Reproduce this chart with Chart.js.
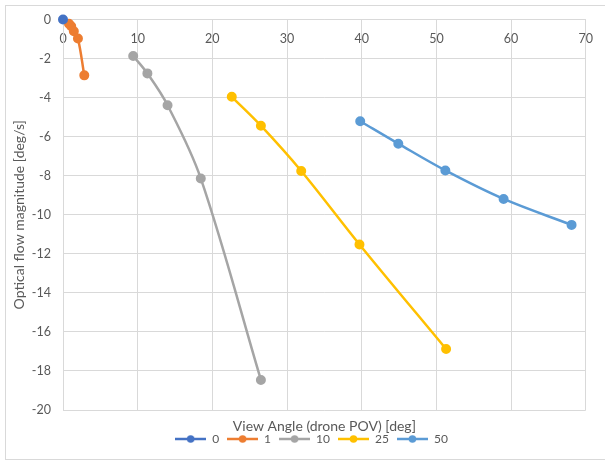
<!DOCTYPE html>
<html>
<head>
<meta charset="utf-8">
<script src="https://cdn.jsdelivr.net/npm/chart.js@4"></script>
<style>
    html, body { margin: 0; padding: 0; background: #ffffff; }
    #frame {
        position: absolute; left: 5px; top: 5px; width: 620px; height: 455px;
        border: 1px solid #d9d9d9; box-sizing: border-box;
    }
    #wrap { position: absolute; left: 0; top: 0; width: 605px; height: 460px; }
</style>
</head>
<body>
<div id="frame"></div>
<div id="wrap"><canvas id="flowChart" width="605" height="460"></canvas></div>
<script>
// series labels (legend) and colours
const seriesNames = ['0', '1', '10', '25', '50'];
const seriesColors = ['#4472C4', '#ED7D31', '#A5A5A5', '#FFC000', '#5B9BD5'];

// view angle [deg] for each series
const angle0 = [0];
const angle1 = [0.8, 1.1, 1.45, 2.0, 2.85];
const angle10 = [9.4, 11.3, 14.0, 18.45, 26.5];
const angle25 = [22.6, 26.5, 31.9, 39.7, 51.3];
const angle50 = [39.8, 44.9, 51.2, 59.0, 68.1];

// optical flow magnitude [deg/s] for each series
const flow0 = [0];
const flow1 = [-0.22, -0.35, -0.6, -0.97, -2.86];
const flow10 = [-1.87, -2.76, -4.39, -8.14, -18.46];
const flow25 = [-3.96, -5.44, -7.76, -11.52, -16.88];
const flow50 = [-5.21, -6.36, -7.73, -9.19, -10.52];

const allAngles = [angle0, angle1, angle10, angle25, angle50];
const allFlows = [flow0, flow1, flow10, flow25, flow50];

const textColor = '#595959';
const gridColor = '#d9d9d9';
const fontFamily = 'Lato, "Open Sans", sans-serif';

// legend marker: short line with a dot, like the spreadsheet legend
function legendMarker(color) {
    const c = document.createElement('canvas');
    c.width = 31;
    c.height = 10;
    const ctx = c.getContext('2d');
    ctx.strokeStyle = color;
    ctx.lineWidth = 2.5;
    ctx.beginPath();
    ctx.moveTo(0, 5);
    ctx.lineTo(31, 5);
    ctx.stroke();
    ctx.fillStyle = color;
    ctx.beginPath();
    ctx.arc(15.5, 5, 3.75, 0, Math.PI * 2);
    ctx.fill();
    return c;
}

const datasets = seriesNames.map(function(name, i) {
    return {
        label: name,
        data: allAngles[i].map((x, j) => ({ x: x, y: allFlows[i][j] })),
        borderColor: seriesColors[i],
        backgroundColor: seriesColors[i],
        pointBackgroundColor: seriesColors[i],
        pointBorderColor: seriesColors[i],
        pointRadius: 3.75,
        pointHoverRadius: 3.75,
        borderWidth: 2.5,
        showLine: true,
        tension: 0.35,
        clip: false,
        xAxisID: 'x',
        yAxisID: 'y',
        legendMarker: legendMarker(seriesColors[i])
    };
});

// the spreadsheet legend sits a little right of the canvas centre
const legendShift = {
    id: 'legendShift',
    afterLayout: function(chart) {
        const lg = chart.legend;
        if (!lg) return;
        const dx = 311.5 - (lg.left + lg.right) / 2;
        lg.left += dx;
        lg.right += dx;
    }
};

new Chart(document.getElementById('flowChart'), {
    type: 'scatter',
    data: { datasets: datasets },
    plugins: [legendShift],
    options: {
        responsive: false,
        animation: false,
        layout: { padding: { left: 11, right: 17, top: 19, bottom: 5 } },
        scales: {
            x: {
                type: 'linear',
                position: { y: 0 },
                min: 0,
                max: 70,
                ticks: {
                    stepSize: 10,
                    padding: 12,
                    color: textColor,
                    font: { family: fontFamily, size: 12.5 }
                },
                grid: { color: gridColor, drawTicks: false },
                border: { color: gridColor }
            },
            xTitle: {
                type: 'linear',
                position: 'bottom',
                min: 0,
                max: 70,
                ticks: { display: false },
                grid: { display: false, drawTicks: false },
                border: { display: false },
                title: {
                    display: true,
                    text: 'View Angle (drone POV) [deg]',
                    color: textColor,
                    font: { family: fontFamily, size: 14 },
                    padding: { top: 6, bottom: -10 }
                },
                afterFit: function(scale) { scale.height = 15; }
            },
            y: {
                type: 'linear',
                position: 'left',
                min: -20,
                max: 0,
                ticks: {
                    stepSize: 2,
                    padding: 12,
                    color: textColor,
                    font: { family: fontFamily, size: 12.5 }
                },
                grid: { color: gridColor, drawTicks: false },
                border: { color: gridColor },
                title: {
                    display: true,
                    text: 'Optical flow magnitude [deg/s]',
                    color: textColor,
                    font: { family: fontFamily, size: 14 },
                    padding: { top: 0, bottom: 0 }
                },
                afterFit: function(scale) { scale.width = 52; }
            }
        },
        plugins: {
            legend: {
                position: 'bottom',
                labels: {
                    usePointStyle: true,
                    pointStyleWidth: 31,
                    padding: 8,
                    color: textColor,
                    font: { family: fontFamily, size: 12 },
                    generateLabels: function(chart) {
                        return chart.data.datasets.map(function(ds, i) {
                            return {
                                text: ds.label,
                                pointStyle: ds.legendMarker,
                                fillStyle: ds.backgroundColor,
                                strokeStyle: ds.borderColor,
                                lineWidth: 0,
                                fontColor: textColor,
                                datasetIndex: i,
                                hidden: false
                            };
                        });
                    }
                }
            },
            tooltip: { enabled: false }
        }
    }
});
</script>
</body>
</html>
